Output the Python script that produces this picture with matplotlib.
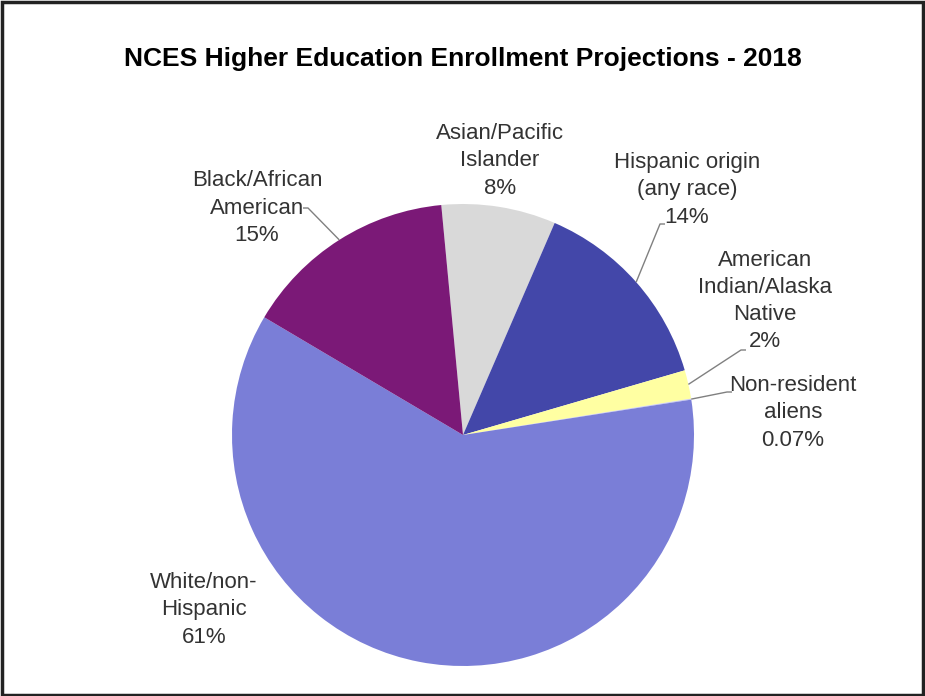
import matplotlib
matplotlib.use("Agg")
import matplotlib.pyplot as plt
import numpy as np
from matplotlib.patches import Rectangle

# enrollment share by group, clockwise from the top of the pie
groups = [
    "Asian/Pacific\nIslander",
    "Hispanic origin\n(any race)",
    "American\nIndian/Alaska\nNative",
    "Non-resident\naliens",
    "White/non-\nHispanic",
    "Black/African\nAmerican",
]
shares = [8, 14, 2, 0.07, 61, 15]
colors = ["#d9d9d9", "#4347a9", "#ffffa2", "#c9cbee", "#7a7ed7", "#7b1977"]

# label anchor (pixels from top-left) and leader line end, if any
label_pos = [(500, 161), (687, 190), (765, 301), (793, 413), (204, 610), (257, 208)]
leader_end = [None, (660, 224), (741, 350), (727, 392), None, (308, 208)]

W, H = 925, 696
CX, CY, R = 463, 435, 231

plt.rcParams["font.family"] = ["Liberation Sans", "DejaVu Sans"]

fig = plt.figure(figsize=(W / 100, H / 100), dpi=100)
ax = fig.add_axes([0, 0, 1, 1])

wedges, _ = ax.pie(
    shares,
    colors=colors,
    startangle=95.4,
    counterclock=False,
    center=(CX, H - CY),
    radius=R,
    wedgeprops={"linewidth": 0},
)
ax.set_xlim(0, W)
ax.set_ylim(0, H)
ax.set_aspect("equal")
ax.axis("off")

for w, name, v, (tx, ty), end in zip(wedges, groups, shares, label_pos, leader_end):
    ax.text(tx, H - ty, f"{name}\n{v:g}%", ha="center", va="center",
            fontsize=16, color="#333333", linespacing=1.38)
    if end is not None:
        mid = np.deg2rad((w.theta1 + w.theta2) / 2)
        ex = CX + R * np.cos(mid)
        ey = H - CY + R * np.sin(mid)
        stub = 5 if end[0] > CX else -5
        ax.plot([ex, end[0], end[0] + stub], [ey, H - end[1], H - end[1]],
                color="#808080", lw=1, solid_capstyle="butt")

ax.text(W / 2, H - 59, "NCES Higher Education Enrollment Projections - 2018",
        ha="center", va="center", fontsize=19, fontweight="bold", color="black")

fig.patches.append(Rectangle((0.002, 0.002), 0.996, 0.995, transform=fig.transFigure,
                             fill=False, edgecolor="#222222", linewidth=2.5))

fig.savefig("out.png", dpi=100, facecolor="white")
